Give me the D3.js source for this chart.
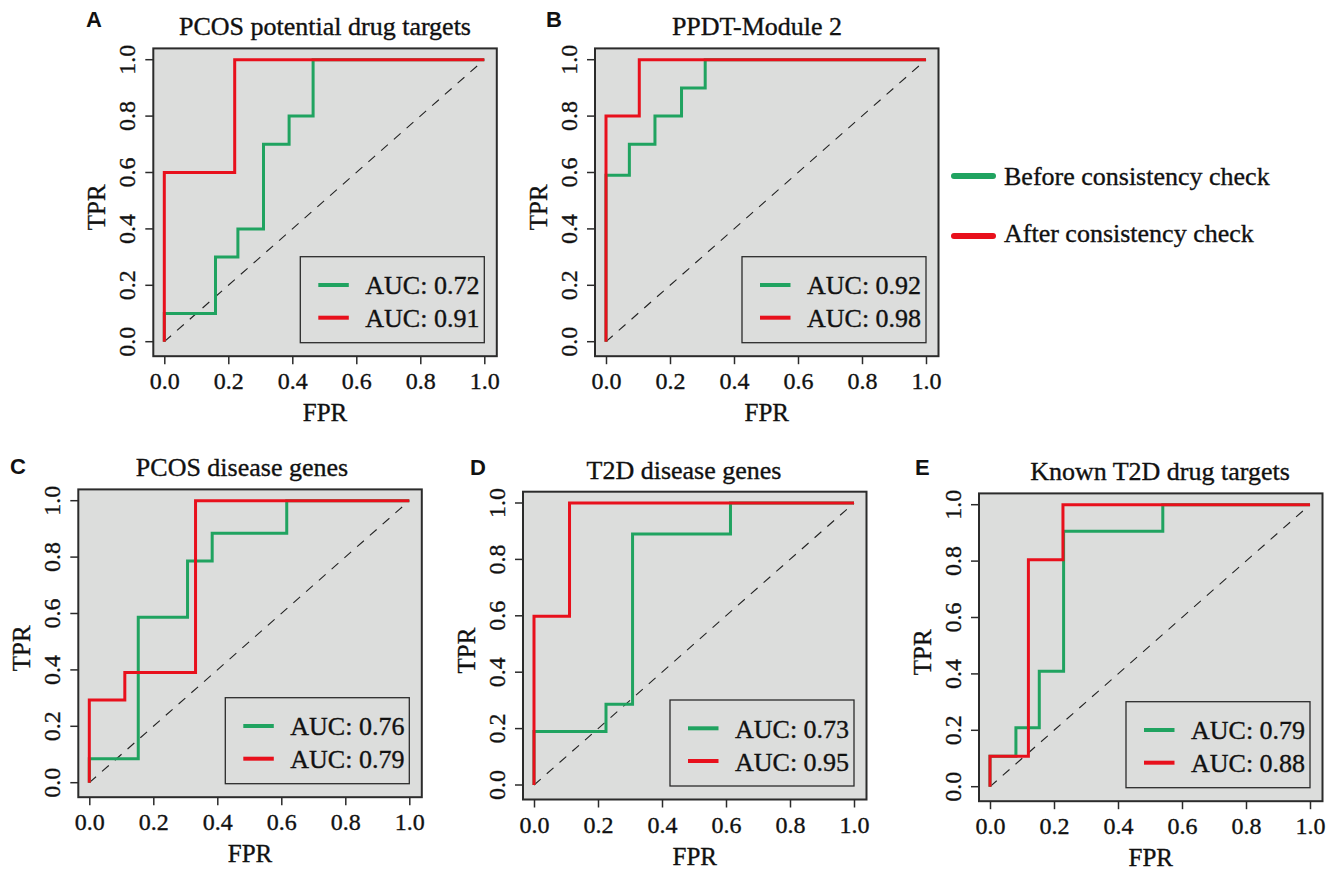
<!DOCTYPE html>
<html>
<head>
<meta charset="utf-8">
<script src="https://cdn.jsdelivr.net/npm/d3@7/dist/d3.min.js"></script>
<style>
  body { margin: 0; background: #fff; }
  text { font-family: "Liberation Serif", "Times New Roman", serif; fill: #111; stroke: #111; stroke-width: 0.35px; }
  .panel-letter { font-family: "Liberation Sans", Arial, sans-serif; font-weight: bold; stroke: none; }
</style>
</head>
<body>
<svg id="fig" width="1336" height="871"></svg>
<script>
// panel text
var letters = ["A", "B", "C", "D", "E"];
var titles = ["PCOS potential drug targets", "PPDT-Module 2", "PCOS disease genes",
              "T2D disease genes", "Known T2D drug targets"];
var aucBefore = ["0.72", "0.92", "0.76", "0.73", "0.79"];
var aucAfter = ["0.91", "0.98", "0.79", "0.95", "0.88"];
var ticks = [0, 0.2, 0.4, 0.6, 0.8, 1.0];
var seriesNames = ["Before consistency check", "After consistency check"];

// ROC vertices (FPR / TPR), "before" = green, "after" = red
var fprBeforeA = [0, 0, 0.16, 0.16, 0.23, 0.23, 0.31, 0.31, 0.39, 0.39, 0.465, 0.465, 1];
var tprBeforeA = [0, 0.1, 0.1, 0.3, 0.3, 0.4, 0.4, 0.7, 0.7, 0.8, 0.8, 1, 1];
var fprAfterA = [0, 0, 0.22, 0.22, 1];
var tprAfterA = [0, 0.6, 0.6, 1, 1];

var fprBeforeB = [0, 0, 0.073, 0.073, 0.153, 0.153, 0.236, 0.236, 0.31, 0.31, 1];
var tprBeforeB = [0, 0.59, 0.59, 0.7, 0.7, 0.8, 0.8, 0.9, 0.9, 1, 1];
var fprAfterB = [0, 0, 0.104, 0.104, 1];
var tprAfterB = [0, 0.8, 0.8, 1, 1];

var fprBeforeC = [0, 0, 0.153, 0.153, 0.307, 0.307, 0.384, 0.384, 0.617, 0.617, 1];
var tprBeforeC = [0, 0.085, 0.085, 0.587, 0.587, 0.786, 0.786, 0.885, 0.885, 1, 1];
var fprAfterC = [0, 0, 0.111, 0.111, 0.332, 0.332, 1];
var tprAfterC = [0, 0.293, 0.293, 0.391, 0.391, 1, 1];

var fprBeforeD = [0, 0, 0.225, 0.225, 0.308, 0.308, 0.614, 0.614, 1];
var tprBeforeD = [0, 0.19, 0.19, 0.286, 0.286, 0.89, 0.89, 1, 1];
var fprAfterD = [0, 0, 0.111, 0.111, 1];
var tprAfterD = [0, 0.598, 0.598, 1, 1];

var fprBeforeE = [0, 0, 0.081, 0.081, 0.154, 0.154, 0.23, 0.23, 0.54, 0.54, 1];
var tprBeforeE = [0, 0.108, 0.108, 0.209, 0.209, 0.409, 0.409, 0.906, 0.906, 1, 1];
var fprAfterE = [0, 0, 0.12, 0.12, 0.228, 0.228, 1];
var tprAfterE = [0, 0.108, 0.108, 0.805, 0.805, 1, 1];

var fprBefore = [fprBeforeA, fprBeforeB, fprBeforeC, fprBeforeD, fprBeforeE];
var tprBefore = [tprBeforeA, tprBeforeB, tprBeforeC, tprBeforeD, tprBeforeE];
var fprAfter = [fprAfterA, fprAfterB, fprAfterC, fprAfterD, fprAfterE];
var tprAfter = [tprAfterA, tprAfterB, tprAfterC, tprAfterD, tprAfterE];

var green = "#20a360", red = "#e8101c", panelBg = "#dcdddc", ink = "#2b2b2b";

// pixel position of data (0,0) for each panel, plus where the title sits
var origins = [[164.3, 341.7], [606, 341.7], [89.3, 782.7], [534, 785], [990, 786.7]];
var titleX = [325, 757, 242, 684, 1160];
var letterPos = [[86, 27], [546, 27], [10, 474], [470, 475], [915, 475]];
var plotW = 320, plotH = 282;

var svg = d3.select("#fig");

for (var i = 0; i < 5; i++) drawPanel(i);
drawSeriesLegend();

function drawPanel(i) {
    var ox = origins[i][0], oy = origins[i][1];
    var x = d3.scaleLinear().domain([0, 1]).range([ox, ox + plotW]);
    var y = d3.scaleLinear().domain([0, 1]).range([oy, oy - plotH]);
    var boxL = x(0) - 11, boxR = x(1) + 12.5, boxT = y(1) - 11.3, boxB = y(0) + 14.5;
    var g = svg.append("g");

    g.append("rect")
        .attr("x", boxL).attr("y", boxT)
        .attr("width", boxR - boxL).attr("height", boxB - boxT)
        .attr("fill", panelBg);

    // chance line
    g.append("line")
        .attr("x1", x(0)).attr("y1", y(0)).attr("x2", x(1)).attr("y2", y(1))
        .attr("stroke", "#222").attr("stroke-width", 1.1)
        .attr("stroke-dasharray", "9,8");

    var line = d3.line().x(d => x(d[0])).y(d => y(d[1]));
    var before = d3.zip(fprBefore[i], tprBefore[i]);
    var after = d3.zip(fprAfter[i], tprAfter[i]);

    g.append("path").datum(before)
        .attr("d", line).attr("fill", "none")
        .attr("stroke", green).attr("stroke-width", 3);
    g.append("path").datum(after)
        .attr("d", line).attr("fill", "none")
        .attr("stroke", red).attr("stroke-width", 3);

    g.append("rect")
        .attr("x", boxL).attr("y", boxT)
        .attr("width", boxR - boxL).attr("height", boxB - boxT)
        .attr("fill", "none").attr("stroke", ink).attr("stroke-width", 2);

    // axes, R style: ticks out, labels away from the box
    var xAxis = d3.axisBottom(x).tickValues(ticks).tickFormat(d3.format(".1f"))
        .tickSize(8).tickPadding(8);
    var gx = g.append("g").attr("transform", "translate(0," + boxB + ")").call(xAxis);
    gx.select(".domain").remove();
    gx.selectAll("line").attr("stroke", ink).attr("stroke-width", 1.5);
    gx.selectAll("text").attr("font-size", 24).attr("fill", "#111")
        .attr("dy", "0.71em");

    var gy = g.append("g");
    gy.selectAll("line").data(ticks).join("line")
        .attr("x1", boxL).attr("x2", boxL - 8)
        .attr("y1", d => y(d)).attr("y2", d => y(d))
        .attr("stroke", ink).attr("stroke-width", 1.5);
    gy.selectAll("text").data(ticks).join("text")
        .attr("transform", d => "translate(" + (boxL - 18) + "," + y(d) + ") rotate(-90)")
        .attr("text-anchor", "middle")
        .attr("font-size", 24)
        .text(d3.format(".1f"));

    g.append("text")
        .attr("x", (boxL + boxR) / 2).attr("y", boxB + 65)
        .attr("text-anchor", "middle").attr("font-size", 25)
        .text("FPR");
    g.append("text")
        .attr("transform", "translate(" + (boxL - 48) + "," + ((boxT + boxB) / 2 + 5) + ") rotate(-90)")
        .attr("text-anchor", "middle").attr("font-size", 25)
        .text("TPR");

    g.append("text")
        .attr("x", titleX[i]).attr("y", boxT - 13)
        .attr("text-anchor", "middle").attr("font-size", 26)
        .text(titles[i]);

    g.append("text").attr("class", "panel-letter")
        .attr("x", letterPos[i][0]).attr("y", letterPos[i][1])
        .attr("font-size", 22)
        .text(letters[i]);

    // AUC legend in the bottom right corner
    var lw = 184, lh = 86;
    var lx = x(1) - lw, ly = y(0) + 1 - lh;
    var leg = g.append("g").attr("transform", "translate(" + lx + "," + ly + ")");
    leg.append("rect").attr("width", lw).attr("height", lh)
        .attr("fill", "none").attr("stroke", ink).attr("stroke-width", 1.3);
    [[aucBefore[i], green], [aucAfter[i], red]].forEach(function(d, k) {
        leg.append("line")
            .attr("x1", 18).attr("x2", 48.5)
            .attr("y1", 28.3 + k * 32.7).attr("y2", 28.3 + k * 32.7)
            .attr("stroke", d[1]).attr("stroke-width", 4);
        leg.append("text")
            .attr("x", 65).attr("y", 37.6 + k * 33.2)
            .attr("font-size", 26)
            .text("AUC: " + d[0]);
    });
}

function drawSeriesLegend() {
    var leg = svg.append("g");
    [green, red].forEach(function(c, k) {
        leg.append("line")
            .attr("x1", 954).attr("x2", 993)
            .attr("y1", 176 + k * 60).attr("y2", 176 + k * 60)
            .attr("stroke", c).attr("stroke-width", 6)
            .attr("stroke-linecap", "round");
        leg.append("text")
            .attr("x", 1004).attr("y", 185 + k * 57)
            .attr("font-size", 26)
            .text(seriesNames[k]);
    });
}
</script>
</body>
</html>
